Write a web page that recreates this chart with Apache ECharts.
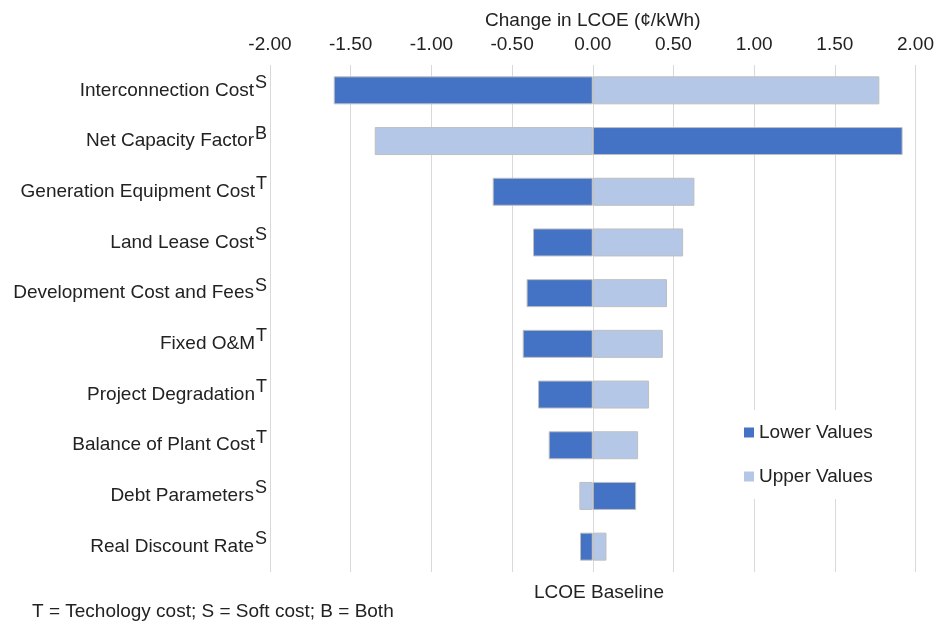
<!DOCTYPE html>
<html>
<head>
<meta charset="utf-8">
<script src="https://cdn.jsdelivr.net/npm/echarts@6/dist/echarts.min.js"></script>
<style>html,body{margin:0;padding:0;background:#fff}#c{width:937px;height:624px}</style>
</head>
<body>
<div id="c"></div>
<script>
var categories = ["Interconnection Cost","Net Capacity Factor","Generation Equipment Cost","Land Lease Cost","Development Cost and Fees","Fixed O&M","Project Degradation","Balance of Plant Cost","Debt Parameters","Real Discount Rate"];
var superscripts = ["S","B","T","S","S","T","T","T","S","S"];
var lowerValues = [-1.605, 1.92, -0.62, -0.37, -0.41, -0.434, -0.339, -0.273, 0.269, -0.079];
var upperValues = [1.776, -1.351, 0.63, 0.56, 0.46, 0.434, 0.349, 0.281, -0.083, 0.085];
var xTicks = [-2, -1.5, -1, -0.5, 0, 0.5, 1, 1.5, 2];

var FONT = '"Liberation Sans", Arial, sans-serif';
var TXT = '#222222';
var chart = echarts.init(document.getElementById('c'), null, {renderer:'canvas'});
var rows = categories.map(function(c,i){ return c + '|' + superscripts[i]; });

chart.setOption({
  animation:false,
  textStyle:{fontFamily:FONT},
  grid:{left:270, right:20.5, top:65, bottom:52},
  title:[
    {text:'LCOE Baseline', left:594, top:578, textAlign:'center',
     textStyle:{fontFamily:FONT, fontSize:19, fontWeight:'normal', color:TXT}},
    {text:'T = Techology cost; S = Soft cost; B = Both', left:27, top:597,
     textStyle:{fontFamily:FONT, fontSize:19, fontWeight:'normal', color:TXT}}
  ],
  legend:{
    orient:'vertical', left:734, top:410,
    padding:[13,14,13,10], itemGap:25, itemWidth:10, itemHeight:10,
    backgroundColor:'#fff',
    icon:'rect',
    itemStyle:{borderWidth:0},
    textStyle:{fontFamily:FONT, fontSize:19, color:TXT},
    data:['Lower Values','Upper Values']
  },
  xAxis:{
    type:'value', position:'top', min:xTicks[0], max:xTicks[xTicks.length-1], interval:0.5,
    name:'Change in LCOE (\u00a2/kWh)', nameLocation:'middle', nameGap:35,
    nameTextStyle:{fontFamily:FONT, fontSize:19, color:TXT},
    axisLine:{show:false}, axisTick:{show:false},
    axisLabel:{fontFamily:FONT, fontSize:19, color:TXT, margin:11,
      formatter:function(v){return v.toFixed(2);}},
    splitLine:{show:true, lineStyle:{color:'#d9d9d9', width:1}}
  },
  yAxis:{
    type:'category', inverse:true, data:rows,
    axisLine:{show:false}, axisTick:{show:false},
    axisLabel:{margin:3, interval:0,
      formatter:function(v){var p=v.split('|'); return '{n|'+p[0]+'}{s|'+p[1]+'}';},
      rich:{
        n:{fontFamily:FONT, fontSize:19, color:TXT},
        s:{fontFamily:FONT, fontSize:18, color:TXT, padding:[0,0,15,1]}
      }
    }
  },
  series:[
    {name:'Lower Values', type:'bar', data:lowerValues, barWidth:28, barGap:'-100%',
     itemStyle:{color:'#4472c4', borderColor:'#bfbfbf', borderWidth:1}},
    {name:'Upper Values', type:'bar', data:upperValues, barWidth:28,
     itemStyle:{color:'#b4c7e7', borderColor:'#bfbfbf', borderWidth:1}}
  ]
});
</script>
</body>
</html>
